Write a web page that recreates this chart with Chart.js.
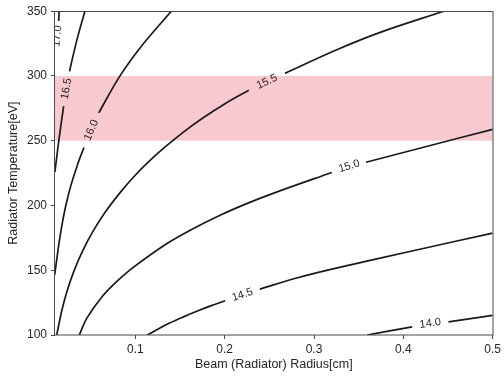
<!DOCTYPE html>
<html>
<head>
<meta charset="utf-8">
<script src="https://cdn.jsdelivr.net/npm/chart.js@4"></script>
<style>
  html, body { margin: 0; padding: 0; background: #ffffff; }
  #wrap { width: 504px; height: 381px; }
</style>
</head>
<body>
<div id="wrap"><canvas id="chart" width="504" height="381"></canvas></div>
<script>
// Axis ticks and the highlighted temperature band
const xTicks = [0.1, 0.2, 0.3, 0.4, 0.5];
const yTicks = [100, 150, 200, 250, 300, 350];
const bandTemps = [250, 300];

// Contour traces: [radius cm, temperature eV]; each level is split around its inline label
const c170a = [[0.0147, 350], [0.0141, 342.4]];
const c170label = [0.0125, 330.9];

const c165a = [[0.0435, 350], [0.0354, 330.2], [0.0282, 309.6], [0.0263, 303.5]];
const c165label = [0.0230, 290.2];
const c165b = [[0.0197, 276.8], [0.0144, 250.9], [0.0099, 225.8]];

const c160a = [[0.1402, 350], [0.1063, 322.6], [0.0824, 299.7], [0.0590, 271.5]];
const c160label = [0.0507, 258.2];
const c160b = [[0.0424, 244.8], [0.0354, 231.9], [0.0280, 215.9], [0.0231, 202.9],
               [0.0191, 189.9], [0.0148, 172.4], [0.0125, 161.0], [0.0107, 151.8], [0.0097, 146.5]];

const c155a = [[0.0119, 100], [0.0177, 119.1], [0.0237, 134.3], [0.0313, 149.5], [0.0408, 164.8],
               [0.0525, 180.0], [0.0667, 195.3], [0.0836, 210.5], [0.0980, 222.0], [0.1143, 233.4],
               [0.1326, 244.8], [0.1531, 256.3], [0.1759, 267.7], [0.1999, 278.4], [0.2270, 289.0]];
const c155label = [0.2473, 295.5];
const c155b = [[0.2675, 302.0], [0.3229, 319.5], [0.3756, 334.0], [0.4454, 350]];

const c150a = [[0.0372, 100], [0.0457, 113.0], [0.0620, 129.0], [0.0778, 140.4], [0.0969, 151.8],
               [0.1337, 169.9], [0.1634, 181.6], [0.1960, 192.8], [0.2260, 201.8], [0.2579, 210.3],
               [0.3199, 225.5]];
const c150label = [0.3393, 230.3];
const c150b = [[0.3582, 233.4], [0.4291, 246.1], [0.5, 258.8]];

const c145a = [[0.1133, 100], [0.1255, 104.7], [0.1377, 109.0], [0.1532, 113.8], [0.1687, 118.3],
               [0.1842, 122.5], [0.2005, 126.5]];
const c145label = [0.2199, 131.0];
const c145b = [[0.2393, 135.4], [0.2817, 144.2], [0.3260, 151.8], [0.4147, 165.6], [0.5, 178.7]];

const c140a = [[0.3595, 100], [0.4099, 106.3]];
const c140label = [0.4302, 108.9];
const c140b = [[0.4505, 110.1], [0.5, 115.2]];

const contours = [
  { level: '17.0', segs: [c170a], label: c170label },
  { level: '16.5', segs: [c165a, c165b], label: c165label },
  { level: '16.0', segs: [c160a, c160b], label: c160label },
  { level: '15.5', segs: [c155a, c155b], label: c155label },
  { level: '15.0', segs: [c150a, c150b], label: c150label },
  { level: '14.5', segs: [c145a, c145b], label: c145label },
  { level: '14.0', segs: [c140a, c140b], label: c140label }
];

const FONT = '"Liberation Sans", Arial, Helvetica, sans-serif';
const INK = '#262626';
const LINE = '#1a1a1a';
const FRAME = '#4a4a4a';

const datasets = [];
contours.forEach(c => {
  c.segs.forEach(seg => {
    datasets.push({
      data: seg.map(([x, y]) => ({ x, y })),
      showLine: true,
      borderColor: LINE,
      borderWidth: 1.7,
      pointRadius: 0,
      tension: 0.35,
      fill: false
    });
  });
});

// Pink band between the two band temperatures
const bandPlugin = {
  id: 'band',
  beforeDatasetsDraw(chart) {
    const { ctx, chartArea: a, scales: { y } } = chart;
    const top = y.getPixelForValue(bandTemps[1]);
    const bottom = y.getPixelForValue(bandTemps[0]);
    ctx.save();
    ctx.fillStyle = 'rgb(249, 201, 208)';
    ctx.fillRect(a.left, top, a.right - a.left, bottom - top);
    ctx.restore();
  }
};

// Inline contour labels, rotated along the contour
const labelPlugin = {
  id: 'contourLabels',
  afterDatasetsDraw(chart) {
    const { ctx, chartArea: a, scales: { x, y } } = chart;
    ctx.save();
    ctx.beginPath();
    ctx.rect(a.left, a.top, a.right - a.left, a.bottom - a.top);
    ctx.clip();
    ctx.font = '11px ' + FONT;
    ctx.fillStyle = INK;
    ctx.textAlign = 'center';
    ctx.textBaseline = 'middle';
    contours.forEach(c => {
      const px = x.getPixelForValue(c.label[0]);
      const py = y.getPixelForValue(c.label[1]);
      const segA = c.segs[0];
      const pA = segA[segA.length - 1];
      const pB = c.segs[1] ? c.segs[1][0] : c.label;
      const ax = x.getPixelForValue(pA[0]), ay = y.getPixelForValue(pA[1]);
      const bx = x.getPixelForValue(pB[0]), by = y.getPixelForValue(pB[1]);
      let ang = Math.atan2(by - ay, bx - ax);
      if (ang > Math.PI / 2) ang -= Math.PI;
      if (ang < -Math.PI / 2) ang += Math.PI;
      ctx.save();
      ctx.translate(px, py);
      ctx.rotate(ang);
      ctx.fillText(c.level, 0, 0);
      ctx.restore();
    });
    ctx.restore();
  }
};

// Full frame around the plotting area
const framePlugin = {
  id: 'frame',
  afterDraw(chart) {
    const { ctx, chartArea: a } = chart;
    ctx.save();
    ctx.strokeStyle = FRAME;
    ctx.lineWidth = 1;
    ctx.strokeRect(Math.round(a.left) - 0.5, Math.round(a.top) + 0.5,
                   Math.round(a.right - a.left) + 0.5, Math.round(a.bottom - a.top) - 0.5);
    ctx.restore();
  }
};

new Chart(document.getElementById('chart'), {
  type: 'scatter',
  data: { datasets },
  options: {
    responsive: false,
    animation: false,
    devicePixelRatio: 1,
    layout: { padding: { top: 7, right: 7, left: 0, bottom: 0 } },
    plugins: { legend: { display: false }, tooltip: { enabled: false } },
    scales: {
      x: {
        type: 'linear',
        min: 0.01,
        max: 0.5,
        afterBuildTicks: s => { s.ticks = xTicks.map(v => ({ value: v })); },
        afterFit: s => { s.height = 46; },
        ticks: {
          color: INK,
          font: { family: FONT, size: 12 },
          padding: 3,
          maxRotation: 0,
          callback: v => v.toFixed(1)
        },
        grid: { drawOnChartArea: false, drawTicks: true, tickLength: 4, tickColor: FRAME, tickWidth: 1 },
        border: { display: false },
        title: {
          display: true,
          text: 'Beam (Radiator) Radius[cm]',
          color: INK,
          font: { family: FONT, size: 12.5 },
          padding: { top: 0, bottom: 9 }
        }
      },
      y: {
        type: 'linear',
        min: 100,
        max: 350,
        afterBuildTicks: s => { s.ticks = yTicks.map(v => ({ value: v })); },
        afterFit: s => { s.width = 55; },
        ticks: {
          color: INK,
          font: { family: FONT, size: 12 },
          padding: 4,
          callback: v => String(v)
        },
        grid: { drawOnChartArea: false, drawTicks: true, tickLength: 4, tickColor: FRAME, tickWidth: 1 },
        border: { display: false },
        title: {
          display: true,
          text: 'Radiator Temperature[eV]',
          color: INK,
          font: { family: FONT, size: 12.5 },
          padding: { top: 6, bottom: 0 }
        }
      }
    }
  },
  plugins: [bandPlugin, labelPlugin, framePlugin]
});
</script>
</body>
</html>
